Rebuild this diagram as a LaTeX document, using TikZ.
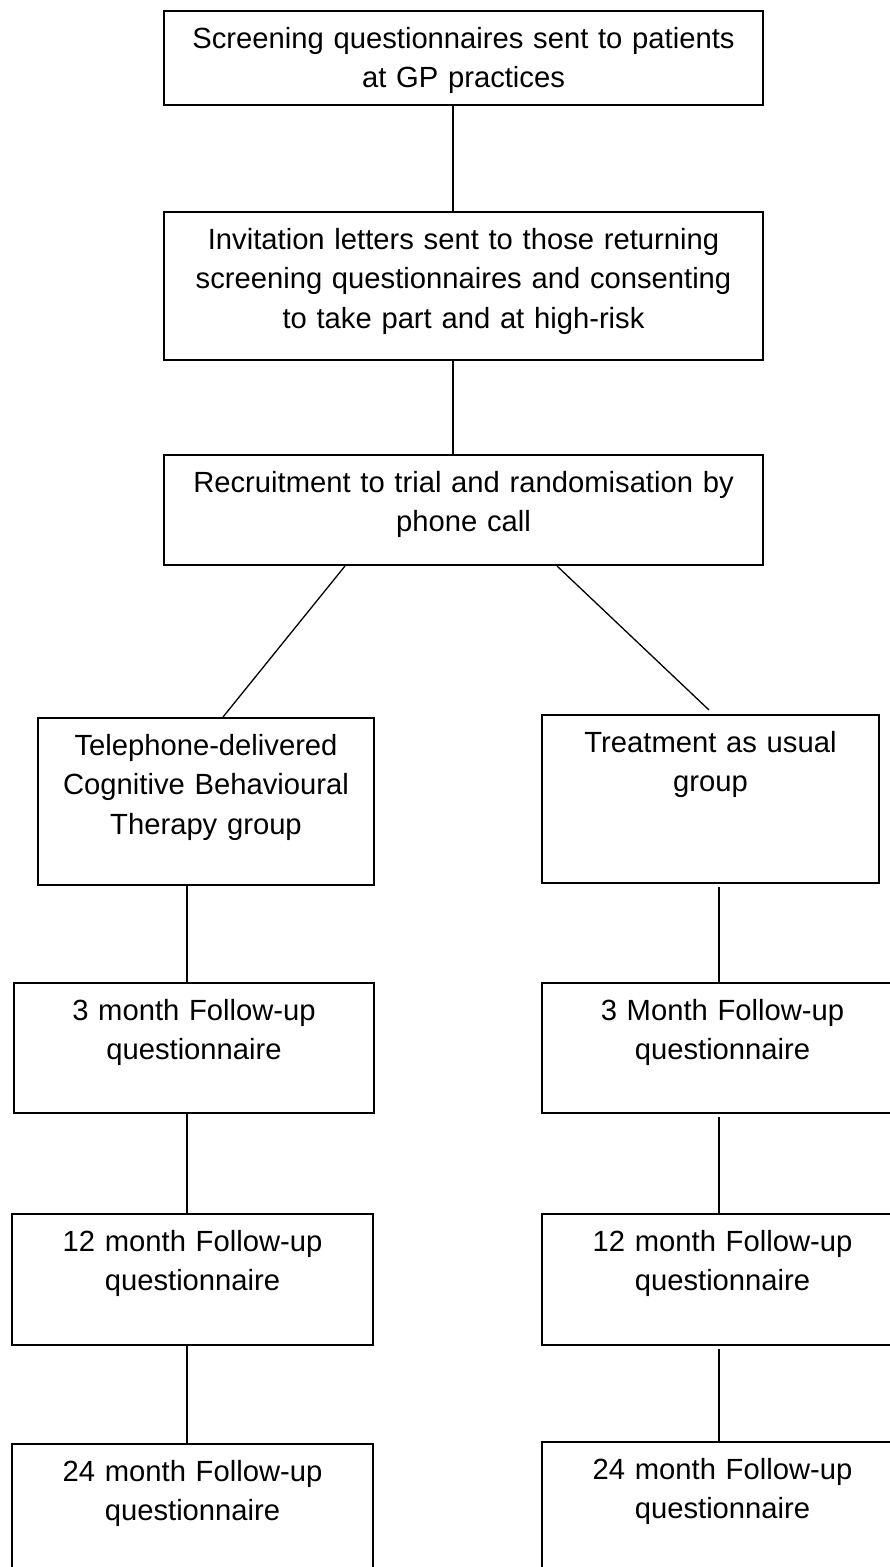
\documentclass[tikz,border=0pt]{standalone}
\usepackage{fontspec}
\setmainfont{Liberation Sans}
\tikzset{
  stage/.style 2 args={draw, line width=2pt, inner sep=0pt, anchor=north west,
    text width=#1pt, align=center, text height=37.5pt, text depth=#2pt,
    font=\fontsize{29.2pt}{39.3pt}\selectfont},
  link/.style={line width=1.3pt}
}
\begin{document}
\begin{tikzpicture}[x=1pt, y=-1pt]
      \clip (0,0) rectangle (890,1567);
      %
      \coordinate (mcol) at (453,0);   % trunk line
      \coordinate (lcol) at (187,0);   % left column line
      \coordinate (rcol) at (719,0);   % right column line
      %
      \node[stage={599}{56.5}] (screen) at (163,10) {Screening questionnaires sent to patients\\at GP practices};
      \node[stage={599}{110.5}] (invite) at (163,211) {Invitation letters sent to those returning\\screening questionnaires and consenting\\to take part and at high-risk};
      \node[stage={599}{72.5}] (recruit) at (163,454) {Recruitment to trial and randomisation by\\phone call};
      %
      \node[stage={336}{129.5}] (cbt) at (37,717) {Telephone-delivered\\Cognitive Behavioural\\Therapy group};   % left arm
      \node[stage={360}{92.5}] (cbtA) at (13,982) {3 month Follow-up\\questionnaire};
      \node[stage={361}{93.5}] (cbtB) at (11,1213) {12 month Follow-up\\questionnaire};
      \node[stage={361}{112.5}] (cbtC) at (11,1443) {24 month Follow-up\\questionnaire};
      %%
      \node[stage={337}{130.5}] (tau) at (541,714) {Treatment as usual\\group};   % right arm
      \node[stage={361}{92.5}] (tauA) at (541,982) {3 Month Follow-up\\questionnaire};
      \node[stage={361}{93.5}] (tauB) at (541,1213) {12 month Follow-up\\questionnaire};
      \node[stage={361}{112.5}] (tauC) at (541,1441) {24 month Follow-up\\questionnaire};
      %
      \draw[link] (screen.south -| mcol) -- (invite.north -| mcol);
      \draw[link] (invite.south -| mcol) -- (recruit.north -| mcol);
      \draw[link] ([xshift=182]recruit.south west) -- ([xshift=186]cbt.north west);
      \draw[link] ([xshift=-207]recruit.south east) -- ([xshift=168,yshift=4]tau.north west);
      %
      \foreach \a/\b in {cbt/cbtA, cbtA/cbtB, cbtB/cbtC}
        \draw[link] (\a.south -| lcol) -- (\b.north -| lcol);
      \foreach \a/\b in {tau/tauA, tauA/tauB, tauB/tauC}
        \draw[link, shorten <=3pt] (\a.south -| rcol) -- (\b.north -| rcol);
      %
    \end{tikzpicture}
\end{document}
